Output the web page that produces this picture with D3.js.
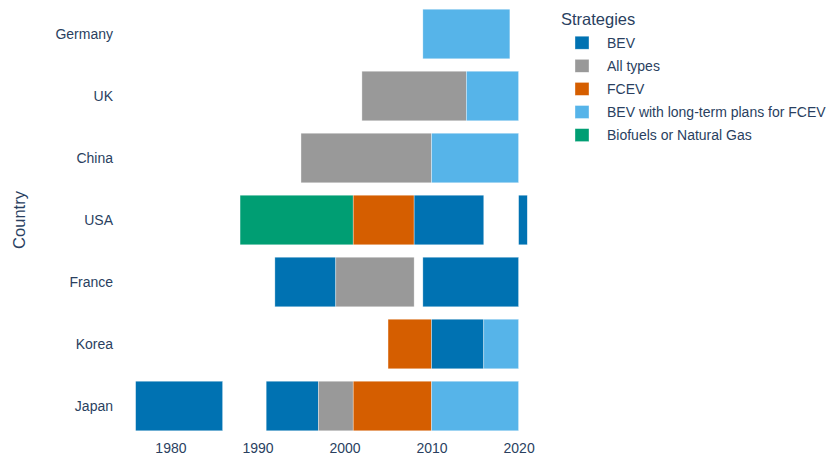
<!DOCTYPE html>
<html>
<head>
<meta charset="utf-8">
<script src="https://cdn.jsdelivr.net/npm/d3@7"></script>
<style>
  html, body { margin: 0; padding: 0; background: #fff; }
  svg { display: block; font-family: "Liberation Sans", Arial, sans-serif; }
</style>
</head>
<body>
<svg id="chart" width="832" height="459"></svg>
<script>
// ---- data ----
const countries = ["Germany", "UK", "China", "USA", "France", "Korea", "Japan"];
const strategies = ["BEV", "All types", "FCEV", "BEV with long-term plans for FCEV", "Biofuels or Natural Gas"];
const strategyColors = ["#0072B2", "#999999", "#D55E00", "#56B4E9", "#009E73"];
const xTicks = [1980, 1990, 2000, 2010, 2020];

// segments (parallel arrays)
const segCountry  = ["Germany", "UK", "UK", "China", "China", "USA", "USA", "USA", "USA", "France", "France", "France", "Korea", "Korea", "Korea", "Japan", "Japan", "Japan", "Japan", "Japan"];
const segStrategy = ["BEV with long-term plans for FCEV", "All types", "BEV with long-term plans for FCEV", "All types", "BEV with long-term plans for FCEV", "Biofuels or Natural Gas", "FCEV", "BEV", "BEV", "BEV", "All types", "BEV", "FCEV", "BEV", "BEV with long-term plans for FCEV", "BEV", "BEV", "All types", "FCEV", "BEV with long-term plans for FCEV"];
const segStart    = [2009, 2002, 2014, 1995, 2010, 1988, 2001, 2008, 2020, 1992, 1999, 2009, 2005, 2010, 2016, 1976, 1991, 1997, 2001, 2010];
const segEnd      = [2019, 2014, 2020, 2010, 2020, 2001, 2008, 2016, 2021, 1999, 2008, 2020, 2010, 2016, 2020, 1986, 1997, 2001, 2010, 2020];

const segments = segCountry.map((c, i) => ({ country: c, strategy: segStrategy[i], start: segStart[i], end: segEnd[i] }));

// ---- layout ----
const svg = d3.select("#chart");
const textColor = "#2a3f5f";

const x = d3.scaleLinear().domain([1976, 2021]).range([135.6, 527.3]);
const y = d3.scaleBand().domain(countries).range([3, 437]).paddingInner(0.2).paddingOuter(0.1);
const color = d3.scaleOrdinal().domain(strategies).range(strategyColors);

// bars
svg.append("g").selectAll("rect").data(segments).join("rect")
  .attr("x", d => x(d.start))
  .attr("y", d => y(d.country))
  .attr("width", d => x(d.end) - x(d.start))
  .attr("height", y.bandwidth())
  .attr("fill", d => color(d.strategy))
  .attr("stroke", "#ffffff")
  .attr("stroke-opacity", 0.6)
  .attr("stroke-width", 0.6);

// x axis
const xAxis = svg.append("g").attr("transform", "translate(0,437)")
  .call(d3.axisBottom(x).tickValues(xTicks).tickFormat(d3.format("d")).tickSize(0).tickPadding(6));
xAxis.select(".domain").remove();
xAxis.selectAll("text").attr("fill", textColor).style("font-size", "14px")
  .style("font-family", "'Liberation Sans', Arial, sans-serif");

// y axis
const yAxis = svg.append("g").attr("transform", "translate(121,1)")
  .call(d3.axisLeft(y).tickSize(0).tickPadding(8));
yAxis.select(".domain").remove();
yAxis.selectAll("text").attr("fill", textColor).style("font-size", "14px")
  .style("font-family", "'Liberation Sans', Arial, sans-serif");

// y axis title
svg.append("text")
  .attr("transform", "translate(19,220) rotate(-90)")
  .attr("text-anchor", "middle")
  .attr("dominant-baseline", "central")
  .attr("fill", textColor)
  .style("font-size", "16.5px")
  .text("Country");

// legend
const legend = svg.append("g");
legend.append("text")
  .attr("x", 561).attr("y", 19)
  .attr("dominant-baseline", "central")
  .attr("fill", textColor)
  .style("font-size", "16.5px")
  .text("Strategies");

const items = legend.selectAll("g.item").data(strategies).join("g")
  .attr("class", "item")
  .attr("transform", (d, i) => `translate(0,${42.7 + i * 23.1})`);
items.append("rect")
  .attr("x", 575).attr("y", -6.5).attr("width", 14).attr("height", 13)
  .attr("fill", d => color(d))
  .attr("stroke", "#ffffff").attr("stroke-opacity", 0.6).attr("stroke-width", 0.6);
items.append("text")
  .attr("x", 607).attr("y", 0)
  .attr("dominant-baseline", "central")
  .attr("fill", textColor)
  .style("font-size", "14px")
  .text(d => d);
</script>
</body>
</html>
